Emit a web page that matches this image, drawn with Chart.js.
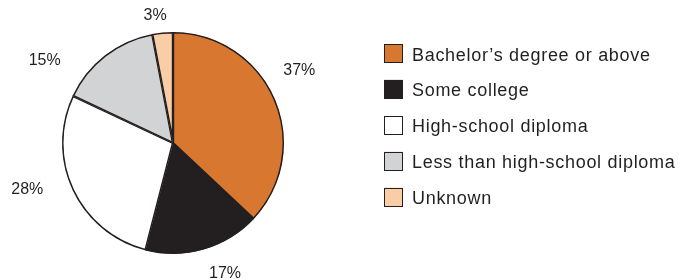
<!DOCTYPE html>
<html>
<head>
<meta charset="utf-8">
<script src="https://cdn.jsdelivr.net/npm/chart.js@4/dist/chart.umd.min.js"></script>
<style>
  html, body { margin: 0; padding: 0; background: #ffffff; }
  #wrap { position: relative; width: 679px; height: 280px; }
</style>
</head>
<body>
<div id="wrap"><canvas id="c" width="679" height="280"></canvas></div>
<script>
// ---- data ----
const categories = [
  "Bachelor\u2019s degree or above",
  "Some college",
  "High-school diploma",
  "Less than high-school diploma",
  "Unknown"
];
const shares = [37, 17, 28, 15, 3];
const valueLabels = ["37%", "17%", "28%", "15%", "3%"];

// ---- styles ----
const sliceColors = ["#D8772F", "#231F20", "#FFFFFF", "#D1D3D4", "#F9CEA6"];
const edgeColor = "#231F20";
const textColor = "#231F20";
// label placement relative to each slice's mid-angle (degrees) and distance from centre (px)
const labelPlacement = [
  { dAngle: -6.7, dist: 146 },
  { dAngle: -5.6, dist: 140 },
  { dAngle: 7.5, dist: 153 },
  { dAngle: -19.2, dist: 153 },
  { dAngle: -2.6, dist: 129 }
];

const sliceLabels = {
  id: "sliceLabels",
  afterDatasetsDraw(chart) {
    const ctx = chart.ctx;
    const meta = chart.getDatasetMeta(0);
    ctx.save();
    ctx.font = "16px 'Liberation Sans', Arial, sans-serif";
    ctx.fillStyle = textColor;
    ctx.textAlign = "center";
    ctx.textBaseline = "middle";
    meta.data.forEach((arc, i) => {
      const p = arc.getProps(["x", "y", "startAngle", "endAngle"], true);
      const mid = (p.startAngle + p.endAngle) / 2 + labelPlacement[i].dAngle * Math.PI / 180;
      const d = labelPlacement[i].dist;
      ctx.fillText(valueLabels[i], p.x + Math.cos(mid) * d, p.y + Math.sin(mid) * d + 0.5);
    });
    ctx.restore();
  }
};

const sideLegend = {
  id: "sideLegend",
  afterDraw(chart) {
    const ctx = chart.ctx;
    const x0 = 384, y0 = 53.5, step = 35.9, box = 19;
    ctx.save();
    ctx.font = "18px 'Liberation Sans', Arial, sans-serif";
    if ("letterSpacing" in ctx) ctx.letterSpacing = "0.7px";
    ctx.textBaseline = "alphabetic";
    ctx.textAlign = "left";
    chart.data.labels.forEach((lab, i) => {
      const cy = y0 + i * step;
      ctx.fillStyle = sliceColors[i];
      ctx.fillRect(x0, cy - box / 2, box, box);
      ctx.strokeStyle = edgeColor;
      ctx.lineWidth = 1;
      ctx.strokeRect(x0 + 0.5, Math.round(cy - box / 2) + 0.5, box - 1, box - 1);
      ctx.fillStyle = textColor;
      ctx.fillText(lab, x0 + 28, cy + 7);
    });
    ctx.restore();
  }
};

new Chart(document.getElementById("c"), {
  type: "pie",
  data: {
    labels: categories,
    datasets: [{
      data: shares,
      backgroundColor: sliceColors,
      borderColor: edgeColor,
      borderWidth: 1.2,
      borderAlign: "inner"
    }]
  },
  options: {
    responsive: false,
    animation: false,
    devicePixelRatio: 1,
    layout: { padding: { left: 62, right: 395, top: 32, bottom: 26 } },
    plugins: {
      legend: { display: false },
      tooltip: { enabled: false }
    }
  },
  plugins: [sliceLabels, sideLegend]
});
</script>
</body>
</html>
